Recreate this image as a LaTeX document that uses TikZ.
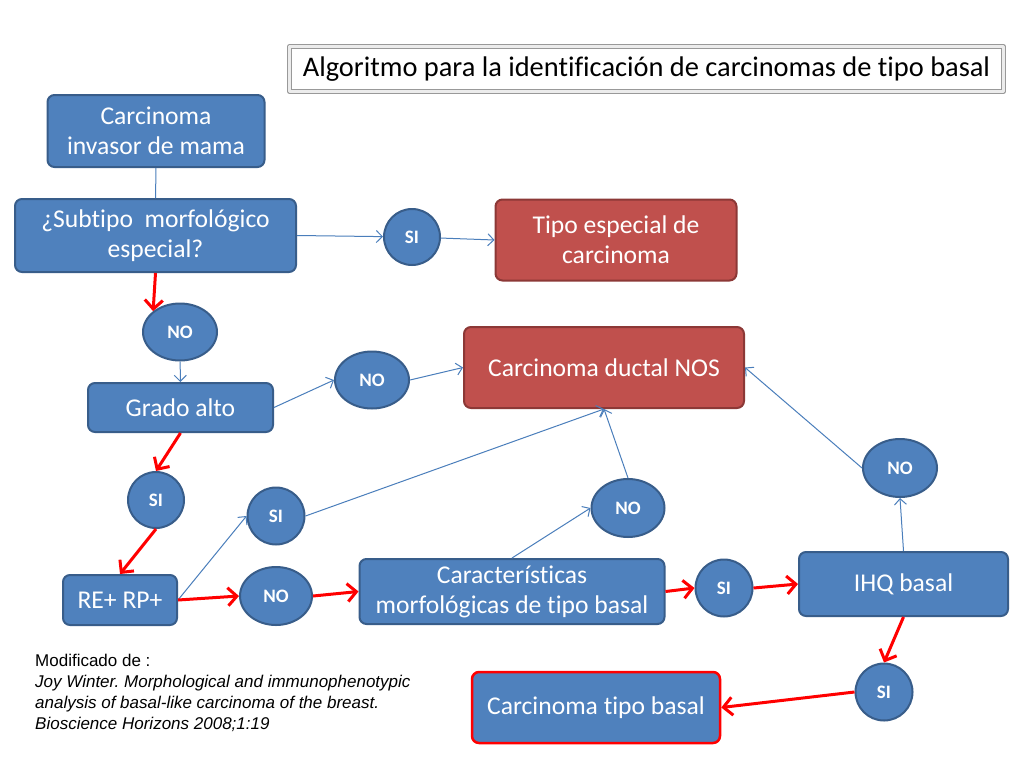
\documentclass[tikz,border=0pt]{standalone}
\usepackage{fontspec}
\setmainfont{Carlito}[RawFeature={-liga}]
\newfontfamily\arialfont{Liberation Sans}
\usetikzlibrary{arrows.meta,shapes.geometric}
\definecolor{boxblue}{RGB}{79,129,189}
\definecolor{boxedge}{RGB}{56,93,138}
\definecolor{boxred}{RGB}{192,80,77}
\definecolor{rededge}{RGB}{140,56,54}
\definecolor{linkblue}{RGB}{74,126,187}
\frenchspacing
\begin{document}
\begin{tikzpicture}[x=1pt,y=-1pt,line join=round,
  stepbox/.style={rectangle,rounded corners=7pt,draw=boxedge,fill=boxblue,line width=2pt,
    text=white,align=center,inner sep=0pt,font=\fontsize{25.6}{30}\selectfont},
  endbox/.style={stepbox,fill=boxred,draw=rededge},
  yesbubble/.style={circle,draw=boxedge,fill=boxblue,line width=2pt,text=white,inner sep=0pt,
    minimum size=57pt,font=\bfseries\fontsize{19}{20}\selectfont},
  nobubble/.style={yesbubble,ellipse,minimum width=74pt,minimum height=57pt},
  link/.style={draw=linkblue,line width=1pt,-{Straight Barb[length=6pt,width=12pt]}},
  redlink/.style={draw=red,line width=3pt,-{Straight Barb[length=9pt,width=18pt]}}]
  \useasboundingbox[fill=white] (0,0) rectangle (1024,768);
  \node[draw=black!40,double=gray!15,double distance=2.5pt,line width=1pt,fill=white,
    minimum width=714pt,minimum height=45pt,inner sep=0pt,
    font=\fontsize{28.4}{32}\selectfont] (title) at (646.5,69)
    {Algoritmo para la identificación de carcinomas de tipo basal};
  \node[stepbox,minimum width=217pt,minimum height=72pt] (inv) at (156,131) {Carcinoma\\invasor de mama};
  \node[stepbox,minimum width=281pt,minimum height=73pt] (sub) at (155.5,235.5) {¿Subtipo~ morfológico\\especial?};
  \node[yesbubble,minimum size=56pt] (si1) at (412,237) {SI};
  \node[endbox,minimum width=241pt,minimum height=81pt] (esp) at (616,240) {Tipo especial de\\carcinoma};
  \node[nobubble] (no1) at (180,332) {NO};
  \node[stepbox,minimum width=185pt,minimum height=49pt] (grado) at (180.5,407.5) {Grado alto};
  \node[nobubble] (no2) at (372,380) {NO};
  \node[endbox,minimum width=280pt,minimum height=81pt] (nos) at (604,367.5) {Carcinoma ductal NOS};
  \node[yesbubble,minimum size=56pt] (si2) at (156,500) {SI};
  \node[stepbox,minimum width=114pt,minimum height=50pt] (rerp) at (120,600) {RE+ RP+};
  \node[yesbubble] (si3) at (276,516) {SI};
  \node[nobubble,minimum width=72pt,minimum height=58pt] (no3) at (276,596) {NO};
  \node[stepbox,minimum width=305pt,minimum height=65pt] (carac) at (512,591.5) {Características\\morfológicas de tipo basal};
  \node[nobubble,minimum width=73pt,minimum height=58pt] (no4) at (628,508) {NO};
  \node[yesbubble] (si4) at (724,588) {SI};
  \node[stepbox,minimum width=209pt,minimum height=64pt] (ihq) at (903.5,584) {IHQ basal};
  \node[nobubble,minimum height=58pt] (no5) at (900,468) {NO};
  \node[yesbubble] (si5) at (884,692) {SI};
  \node[stepbox,draw=red,line width=2.5pt,minimum width=248pt,minimum height=71pt] (basal) at (596,707.5) {Carcinoma tipo basal};
  \node[anchor=north west,align=left,inner sep=0pt,font=\arialfont\fontsize{17}{21}\selectfont] (ref) at (35,654)
    {Modificado de :\\\itshape Joy Winter. Morphological and immunophenotypic\\\itshape analysis of basal-like carcinoma of the breast.\\\itshape Bioscience Horizons 2008;1:19};
  \draw[draw=linkblue,line width=1pt] (inv) -- (sub);
  \draw[link] (sub.east) -- (si1);
  \draw[link] (si1) -- (esp.west);
  \draw[redlink] (sub.south) -- (no1.north west);
  \draw[link] (no1) -- (grado);
  \draw[link] (grado.east) -- (no2.west);
  \draw[link] (no2.east) -- (nos.west);
  \draw[redlink] (grado.south) -- (si2.north);
  \draw[redlink] (si2.south) -- (rerp.north);
  \draw[link] (rerp.east) -- (si3.west);
  \draw[redlink] (rerp.east) -- (no3.west);
  \draw[link] (si3.east) -- (nos.south);
  \draw[redlink] (no3.east) -- (carac.west);
  \draw[link] (carac.north) -- (no4.west);
  \draw[link] (no4.north) -- (nos.south);
  \draw[redlink] (carac.east) -- (si4.west);
  \draw[redlink] (si4.east) -- (ihq.west);
  \draw[link] (ihq.north) -- (no5.south);
  \draw[link] (no5.west) -- (nos.east);
  \draw[redlink] (ihq.south) -- (si5.north);
  \draw[redlink] (si5.west) -- (basal.east);
\end{tikzpicture}
\end{document}
